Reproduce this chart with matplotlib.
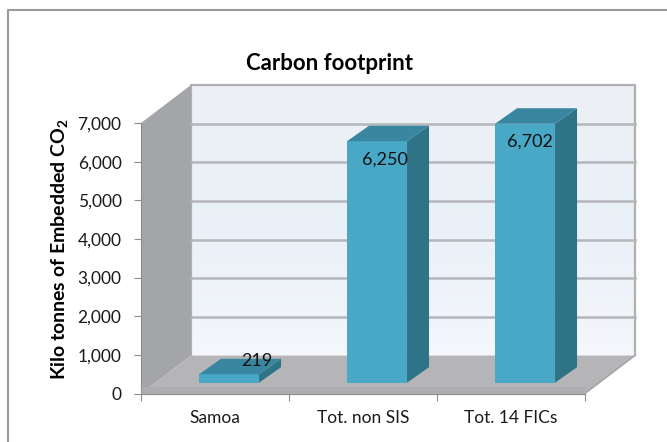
import matplotlib
matplotlib.use("Agg")
import matplotlib.pyplot as plt
from matplotlib.patches import Polygon
from matplotlib.lines import Line2D
from matplotlib.colors import LinearSegmentedColormap
import numpy as np

categories = ["Samoa", "Tot. non SIS", "Tot. 14 FICs"]
values = [219, 6250, 6702]
labels = ["219", "6,250", "6,702"]
yticks = [0, 1000, 2000, 3000, 4000, 5000, 6000, 7000]
title = "Carbon footprint"

plt.rcParams['font.family'] = ['Lato', 'DejaVu Sans']
plt.rcParams['mathtext.fontset'] = 'custom'
plt.rcParams['mathtext.bf'] = 'Lato:bold'
plt.rcParams['mathtext.rm'] = 'Lato'
W, H = 667, 442
fig = plt.figure(figsize=(W/100, H/100), dpi=100, facecolor='white')
# outer frame: only the top and left edges show in the reference
fig.add_artist(Line2D([8/W, 8/W, 1], [0, 1-10/H, 1-10/H], transform=fig.transFigure,
                      color='#9a9a9a', lw=1.5))

L, R, T, B = 141, 585, 123, 393.5
ax = fig.add_axes([L/W, 1-B/H, (R-L)/W, (B-T)/H])
ax.set_xlim(0, 3); ax.set_ylim(0, 7000)
ax.patch.set_visible(False)
for s in ['top', 'right']:
    ax.spines[s].set_visible(False)
for s in ['left', 'bottom']:
    ax.spines[s].set_color('#8c8c8c')
ax.set_xticks([0, 1, 2, 3]); ax.set_xticklabels([])
ax.set_xticks([0.5, 1.5, 2.5], minor=True)
ax.set_xticklabels(categories, minor=True, fontsize=12.5, color='#1a1a1a')
ax.tick_params(axis='x', which='minor', length=0, pad=12)
ax.tick_params(axis='x', which='major', length=5, color='#8c8c8c')
ax.set_yticks(yticks)
ax.set_yticklabels([f"{v:,}" for v in yticks], fontsize=12.5, color='#1a1a1a')
ax.tick_params(axis='y', length=5, color='#8c8c8c', pad=9)

dx, dy = 50/148, 1000*38/38.64   # full chart depth in data units

def poly(pts, fc, z):
    ax.add_patch(Polygon(pts, closed=True, fc=fc, ec='none', lw=0, zorder=z, clip_on=False))

# back wall gradient
cm = LinearSegmentedColormap.from_list('w', ['#f4f7fb', '#e9f0f7', '#edf0f5'])
ax.imshow(np.linspace(1, 0, 64)[:, None], cmap=cm, aspect='auto', zorder=1,
          extent=(dx, 3+dx, dy, 7000+dy), clip_on=False)
ax.set_xlim(0, 3); ax.set_ylim(0, 7000)
# wall outline
ax.plot([dx, dx, 3+dx, 3+dx], [dy, 7000+dy, 7000+dy, dy], color='#aeb0b3', lw=1.6, zorder=2, clip_on=False)
# side wall
poly([(0, 0), (0, 7000), (dx, 7000+dy), (dx, dy)], '#a3a5a9', 2)
# floor
poly([(0, 0), (3, 0), (3+dx, dy), (dx, dy)], '#b5b5b8', 2)
ax.plot([3, 3+dx], [0, dy], color='#a0a0a0', lw=1, zorder=3, clip_on=False)
ax.plot([0, 3], [90, 90], color='#adadb0', lw=5, zorder=3, solid_capstyle='butt')
# gridlines on the wall
for v in yticks[1:-1]:
    ax.plot([dx, 3+dx], [v+dy, v+dy], color='#b4b6ba', lw=1.8, zorder=2, clip_on=False)

# 3-D bars
bw = 0.405
offx, offy = 0.095, 280
bdx, bdy = 22/148, 400
label_dx = [0.19, 0.05, 0.03]
label_dy = [340, -480, -460]
for i, (v, lab) in enumerate(zip(values, labels)):
    x0 = i + 0.5 + offx - bw/2
    x1 = x0 + bw
    y0, y1 = offy, offy + v
    z = 5 + i
    poly([(x0, y0), (x1, y0), (x1, y1), (x0, y1)], '#48a8c6', z)
    poly([(x1, y0), (x1+bdx, y0+bdy), (x1+bdx, y1+bdy), (x1, y1)], '#2e7386', z)
    poly([(x0, y1), (x1, y1), (x1+bdx, y1+bdy), (x0+bdx, y1+bdy)], '#38869f', z)
    ax.text(x0 + bw/2 + label_dx[i], y1 + label_dy[i], lab, ha='center', va='center',
            fontsize=13, color='#111111', zorder=10)

fig.text(60/W, 1-249/H, r"Kilo tonnes of Embedded CO$_{\mathbf{2}}$", rotation=90,
         ha='center', va='center', fontsize=14, fontweight='bold')
fig.text(329/W, 1-63/H, title, ha='center', va='center', fontsize=16, fontweight='bold')
fig.savefig("out.png", dpi=100)
